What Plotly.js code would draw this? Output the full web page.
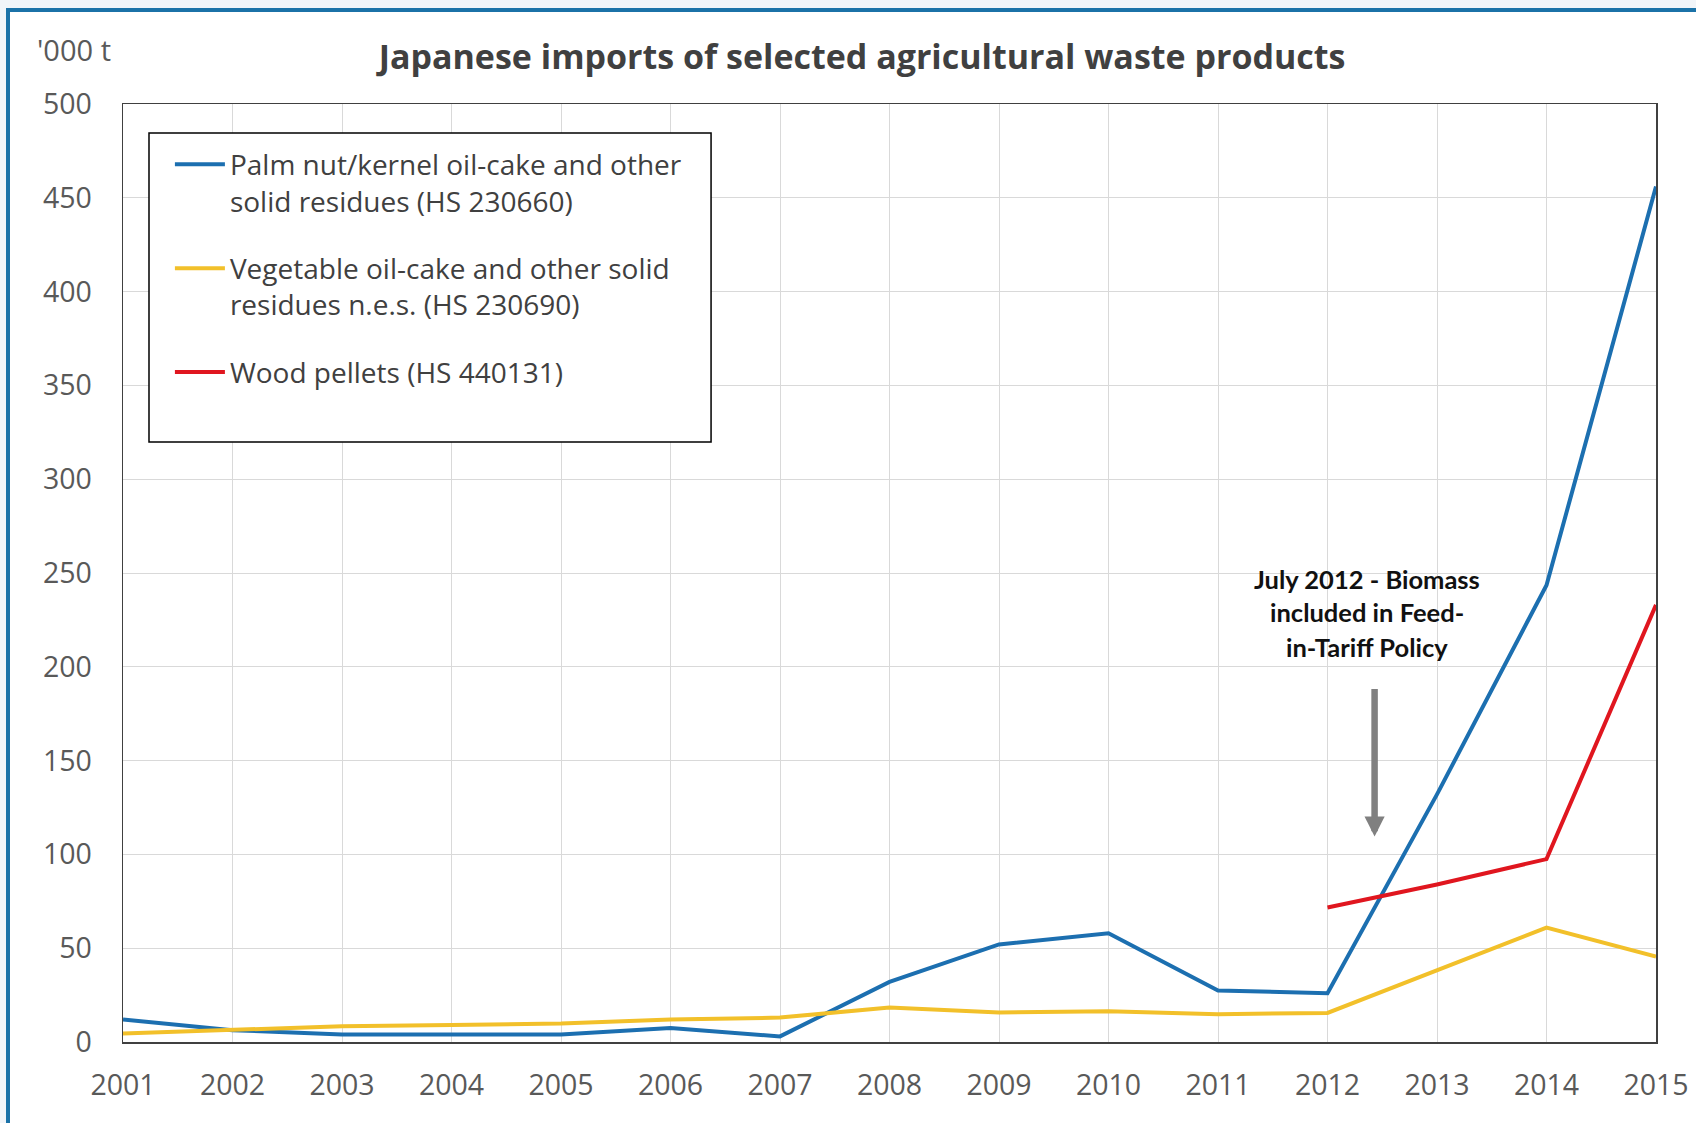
<!DOCTYPE html>
<html>
<head>
<meta charset="utf-8">
<script src="https://cdn.plot.ly/plotly-3.0.1.min.js"></script>
<style>
html,body{margin:0;padding:0;width:1696px;height:1123px;overflow:hidden;background:#f1f5f9;}
#frame{position:absolute;left:6px;top:8px;width:1700px;height:1130px;border-top:4px solid #1b72a8;border-left:4px solid #1b72a8;background:#ffffff;}
#chart{position:absolute;left:0;top:0;width:1696px;height:1123px;}
</style>
</head>
<body>
<div id="frame"></div>
<div id="chart"></div>
<script>
// ---- data ----
const years = [2001, 2002, 2003, 2004, 2005, 2006, 2007, 2008, 2009, 2010, 2011, 2012, 2013, 2014, 2015];
const palmKernel = [12, 6.3, 4, 4, 4, 7.5, 3, 32, 52, 58, 27.5, 26, 132, 243.5, 456];
const vegetableOilCake = [4.5, 6.3, 8.4, 9.1, 9.8, 12, 13, 18.4, 15.7, 16.4, 14.8, 15.5, 38.5, 61, 45.5];
const woodPellets = [null, null, null, null, null, null, null, null, null, null, null, 71.7, 84, 97.5, 233];
const seriesNames = [
  'Palm nut/kernel oil-cake and other<br>solid residues (HS 230660)',
  'Vegetable oil-cake and other solid<br>residues n.e.s. (HS 230690)',
  'Wood pellets (HS 440131)'
];
const seriesColors = ['#1c6fb0', '#f2c02a', '#e0161f'];
const titleText = 'Japanese imports of selected agricultural waste products';
const unitText = "'000 t";
const noteLines = ['July 2012 - Biomass', 'included in Feed-', 'in-Tariff Policy'];

const seriesValues = [palmKernel, vegetableOilCake, woodPellets];
const traces = seriesValues.map((vals, i) => ({
  type: 'scatter',
  mode: 'lines',
  x: years,
  y: vals,
  name: seriesNames[i],
  legendgroup: 'g' + i,
  line: {color: seriesColors[i], width: 4},
  connectgaps: false,
  hoverinfo: 'skip'
}));

const noteY = [247, 229, 210.5];
const annotations = noteLines.map((t, i) => ({
  x: 2012.36, y: noteY[i], xref: 'x', yref: 'y',
  text: '<b>' + t + '</b>', showarrow: false,
  xanchor: 'center', yanchor: 'middle',
  font: {family: 'Lato, "Open Sans", sans-serif', size: 25.5, color: '#111111'}
}));
annotations.push({
  x: 2012.43, y: 109.5, xref: 'x', yref: 'y',
  ax: 2012.43, ay: 189, axref: 'x', ayref: 'y',
  text: '', showarrow: true, arrowhead: 2, arrowsize: 0.62,
  arrowwidth: 6.5, arrowcolor: '#808080', standoff: 0, startstandoff: 0
});
annotations.push({
  x: -0.0575, y: 1.0576, xref: 'paper', yref: 'paper',
  text: unitText, showarrow: false, xanchor: 'left', yanchor: 'middle',
  font: {size: 29, color: '#595959'}
});

const layout = {
  width: 1696, height: 1123,
  margin: {l: 123, r: 40, t: 104, b: 81, pad: 0},
  paper_bgcolor: 'rgba(0,0,0,0)',
  plot_bgcolor: '#ffffff',
  font: {family: '"Open Sans", sans-serif', color: '#595959'},
  title: {
    text: titleText,
    xref: 'container', yref: 'container',
    x: 0.5083, y: 0.9492, xanchor: 'center', yanchor: 'middle',
    font: {size: 34, color: '#404040', weight: 700}
  },
  xaxis: {
    range: [2001, 2015], tickmode: 'linear', tick0: 2001, dtick: 1,
    showgrid: true, gridcolor: '#d9d9d9', gridwidth: 1,
    showline: true, mirror: true, linecolor: '#404040', linewidth: 1.5,
    zeroline: false, ticks: '', ticklabelstandoff: 17,
    tickfont: {size: 28.5, color: '#595959'}, fixedrange: true
  },
  yaxis: {
    range: [0, 500], tickmode: 'linear', tick0: 0, dtick: 50,
    showgrid: true, gridcolor: '#d9d9d9', gridwidth: 1,
    showline: true, mirror: true, linecolor: '#404040', linewidth: 1.5,
    zeroline: false, ticks: '', ticklabelstandoff: 24,
    tickfont: {size: 28.5, color: '#595959'}, fixedrange: true
  },
  showlegend: true,
  legend: {
    x: 0.0306, y: 0.962, xanchor: 'left', yanchor: 'top',
    bgcolor: 'rgba(0,0,0,0)', borderwidth: 0,
    font: {size: 28, color: '#404040'},
    valign: 'top', tracegroupgap: 28, itemwidth: 50
  },
  shapes: [{
    type: 'rect', xref: 'paper', yref: 'paper',
    x0: 0.01696, x1: 0.3836, y0: 0.6397, y1: 0.969,
    fillcolor: '#ffffff', line: {color: '#000000', width: 1.5}, layer: 'above'
  }],
  annotations: annotations
};

Plotly.newPlot('chart', traces, layout, {displayModeBar: false, staticPlot: true});
</script>
</body>
</html>
